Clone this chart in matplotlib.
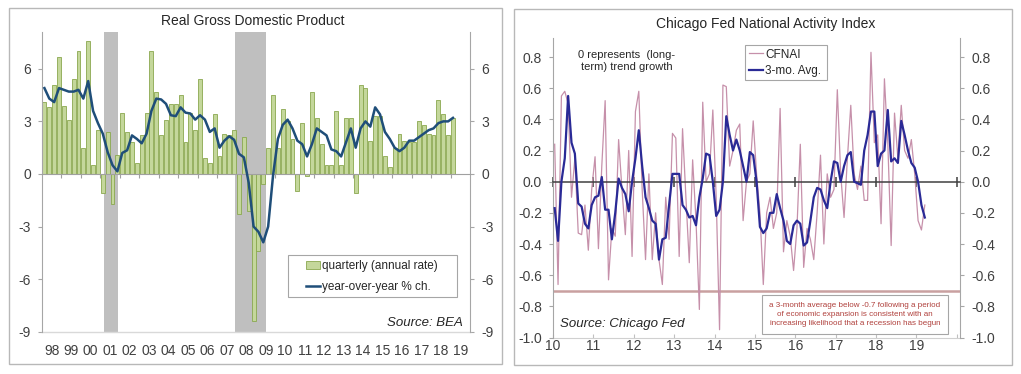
import numpy as np
import matplotlib
matplotlib.use("Agg")
import matplotlib.pyplot as plt
from matplotlib.patches import Rectangle, Patch
from matplotlib.lines import Line2D

plt.rcParams['font.family'] = ['Liberation Sans', 'DejaVu Sans']

# ---------------- data: Real GDP (quarterly, 1998Q1 - 2019Q1) ----------------
gdp_start_year = 1998
gdp_quarterly = [4.1, 3.8, 5.1, 6.7,
                 3.9, 3.1, 5.4, 7.0,
                 1.5, 7.6, 0.5, 2.5,
                 -1.1, 2.4, -1.7, 1.1,
                 3.5, 2.4, 1.8, 0.6,
                 2.2, 3.5, 7.0, 4.7,
                 2.2, 3.1, 4.0, 4.0,
                 4.5, 1.8, 3.5, 2.5,
                 5.4, 0.9, 0.6, 3.4,
                 1.0, 2.3, 2.2, 2.5,
                 -2.3, 2.1, -2.1, -8.4,
                 -4.4, -0.6, 1.5, 4.5,
                 1.5, 3.7, 3.0, 2.0,
                 -1.0, 2.9, -0.1, 4.7,
                 3.2, 1.7, 0.5, 0.5,
                 3.6, 0.5, 3.2, 3.2,
                 -1.1, 5.1, 4.9, 1.9,
                 3.3, 3.3, 1.0, 0.4,
                 1.5, 2.3, 1.9, 1.8,
                 1.8, 3.0, 2.8, 2.3,
                 2.2, 4.2, 3.4, 2.2,
                 3.2]
gdp_yoy = [4.9, 4.3, 4.1, 4.9,
           4.8, 4.7, 4.7, 4.8,
           4.3, 5.3, 3.6, 2.9,
           2.3, 1.25, 0.5, 0.15,
           1.2, 1.35, 2.2, 2.0,
           1.75, 2.3, 3.6, 4.3,
           4.25, 4.0, 3.35, 3.3,
           3.8, 3.5, 3.45, 3.1,
           3.35, 3.1, 2.4, 2.6,
           1.5, 1.9, 2.15, 1.95,
           1.15, 0.95, -0.5, -3.0,
           -3.3, -3.9, -3.0, -0.1,
           2.0, 2.8, 3.1, 2.6,
           1.9, 1.7, 1.0, 1.7,
           2.6, 2.4, 2.2, 1.4,
           1.3, 1.0, 1.8, 2.6,
           1.5, 2.6, 3.0, 2.7,
           3.8, 3.4, 2.4, 2.0,
           1.5, 1.3, 1.5, 1.9,
           1.9, 2.1, 2.3, 2.5,
           2.6, 2.9, 3.0, 3.0,
           3.2]
recession_start = [2001.17, 2007.92]
recession_end = [2001.92, 2009.5]
gdp_year_labels = ['98', '99', '00', '01', '02', '03', '04', '05', '06', '07', '08',
                   '09', '10', '11', '12', '13', '14', '15', '16', '17', '18', '19']
gdp_yticks = [-9, -6, -3, 0, 3, 6]

# ---------------- data: CFNAI (monthly, Jan 2010 - Mar 2019) ----------------
cfnai_start_year = 2010
cfnai = [0.24, -0.66, 0.55, 0.58, 0.50, -0.10, 0.15, -0.33, -0.34, -0.15,
         -0.44, -0.05, 0.16, -0.43, 0.10, 0.52, -0.63, -0.30, -0.35, 0.27,
         -0.05, -0.34, 0.20, -0.48, 0.45, 0.58, -0.05, -0.50, 0.05, -0.50,
         -0.20, -0.50, -0.66, -0.10, -0.37, 0.31, 0.28, -0.48, 0.34, -0.10,
         -0.52, 0.14, -0.25, -0.82, 0.51, 0.00, 0.05, 0.46, -0.10, -0.95,
         0.62, 0.61, 0.10, 0.20, 0.33, 0.37, -0.25, 0.00, 0.05, 0.39,
         0.05, -0.20, -0.66, -0.20, -0.10, -0.30, -0.20, 0.47, -0.45, -0.25,
         -0.35, -0.57, -0.30, 0.24, -0.55, -0.30, -0.37, -0.50, -0.20, 0.17,
         -0.40, 0.05, -0.10, -0.05, 0.59, 0.05, -0.23, 0.15, 0.49, 0.05,
         -0.05, 0.10, -0.12, -0.12, 0.83, 0.25, 0.30, -0.27, 0.66, 0.25,
         -0.41, 0.44, 0.15, 0.49, 0.20, 0.15, 0.27, 0.05, -0.25, -0.31,
         -0.15]
cfnai_3mo = [-0.17, -0.38, 0.00, 0.15, 0.55, 0.25, 0.18, -0.14, -0.16, -0.27,
             -0.30, -0.15, -0.10, -0.09, 0.03, -0.18, -0.18, -0.37, -0.20, 0.02,
             -0.04, -0.08, -0.19, 0.00, 0.15, 0.33, 0.10, -0.10, -0.17, -0.25,
             -0.27, -0.50, -0.37, -0.36, -0.15, 0.05, 0.05, 0.05, -0.15, -0.18,
             -0.23, -0.22, -0.28, -0.10, 0.02, 0.18, 0.17, 0.00, -0.22, -0.18,
             0.00, 0.42, 0.30, 0.20, 0.27, 0.20, 0.10, 0.00, 0.19, 0.17,
             0.00, -0.29, -0.33, -0.30, -0.20, -0.20, -0.08, -0.17, -0.25, -0.38,
             -0.40, -0.28, -0.25, -0.27, -0.41, -0.39, -0.25, -0.10, -0.04, -0.05,
             -0.12, -0.17, 0.00, 0.13, 0.12, 0.00, 0.10, 0.17, 0.19, 0.00,
             -0.01, -0.02, 0.20, 0.30, 0.45, 0.45, 0.10, 0.18, 0.20, 0.46,
             0.13, 0.15, 0.12, 0.39, 0.30, 0.20, 0.12, 0.09, 0.00, -0.15,
             -0.23]
recession_threshold = -0.7
cfnai_year_labels = ['10', '11', '12', '13', '14', '15', '16', '17', '18', '19']
cfnai_yticks = [-1.0, -0.8, -0.6, -0.4, -0.2, 0.0, 0.2, 0.4, 0.6, 0.8]

# ---------------- figure ----------------
W, H = 1021, 374
fig = plt.figure(figsize=(W / 100, H / 100), dpi=100)


def px_axes(x0, y0, x1, y1):
    return fig.add_axes([x0 / W, 1 - y1 / H, (x1 - x0) / W, (y1 - y0) / H])


def px_fig(x, y):
    return x / W, 1 - y / H


def rect_patch(x0, y0, x1, y1, ec, lw=1.0, fc='none', z=1):
    return Rectangle((x0 / W, 1 - y1 / H), (x1 - x0) / W, (y1 - y0) / H,
                     transform=fig.transFigure, facecolor=fc, edgecolor=ec,
                     linewidth=lw, zorder=z, clip_on=False)


# panel frames
fig.patches.append(rect_patch(9, 8, 502, 364, '#b8b8b8'))
fig.patches.append(rect_patch(514, 9, 1012, 365, '#b8b8b8'))

TICKC = '#404040'
SPINEC = '#a6a6a6'

# ================= Left panel: GDP =================
ax = px_axes(42, 32, 470, 331.7)
q_x = gdp_start_year + np.arange(len(gdp_quarterly)) / 4 + 0.125
ax.set_xlim(1998, 2020)
ax.set_ylim(-9, 8.1)

for s, e in zip(recession_start, recession_end):
    ax.axvspan(s, e, color='#bfbfbf', zorder=0, lw=0)

ax.bar(q_x, gdp_quarterly, width=0.2, color='#c4d79b', edgecolor='#8aa84f',
       linewidth=0.6, zorder=2, label='quarterly (annual rate)')
yx = gdp_start_year + np.arange(len(gdp_yoy)) / 4 + 0.125
ax.plot(yx, gdp_yoy, color='#1f4e79', lw=1.8, zorder=3, label='year-over-year % ch.')

ax.spines['top'].set_visible(False)
ax.spines['bottom'].set_position(('data', 0))
ax.spines['bottom'].set_color('#a0a0a0')
ax.spines['bottom'].set_zorder(2.5)
for sp in ['left', 'right']:
    ax.spines[sp].set_color(SPINEC)
ax.set_xticks(np.arange(1999, 2020))
ax.tick_params(axis='x', direction='out', length=3, color='#a0a0a0', labelbottom=False)
ax.set_yticks(gdp_yticks)
ax.set_yticklabels([str(v) for v in gdp_yticks])
ax.tick_params(axis='y', direction='out', length=3, color=SPINEC, labelsize=10,
               labelcolor=TICKC, right=True, labelright=True, pad=5)
ax.plot([0, 1], [0, 0], transform=ax.transAxes, color='#d9d9d9', lw=1, clip_on=False)

sec = ax.secondary_xaxis(0)
sec.spines['bottom'].set_visible(False)
sec.set_xticks([])
sec.set_xticks(np.arange(1998, 2020) + 0.5, gdp_year_labels, minor=True)
sec.tick_params(axis='x', which='minor', length=0, labelsize=10, labelcolor=TICKC, pad=9)

fig.text(*px_fig(253, 21), 'Real Gross Domestic Product', ha='center', va='center',
         fontsize=10, color='#262626')

ax.add_patch(rect_patch(288, 255, 457, 297, '#a6a6a6', lw=0.8, fc='white', z=4.5))
leg = ax.legend(handles=[Patch(facecolor='#c4d79b', edgecolor='#8aa84f', lw=0.6),
                         Line2D([], [], color='#1f4e79', lw=1.8)],
                labels=['quarterly (annual rate)', 'year-over-year % ch.'],
                loc='center left', bbox_to_anchor=px_fig(306, 276.5),
                bbox_transform=fig.transFigure, fontsize=8.5, frameon=False,
                handlelength=1.2, handleheight=0.7, handletextpad=0.15,
                labelspacing=0.78, borderpad=0, borderaxespad=0)
leg.set_zorder(5)
for t in leg.get_texts():
    t.set_color('#262626')

fig.text(*px_fig(463, 323), 'Source: BEA', ha='right', va='center', fontsize=9.5,
         style='italic', color='#262626')

# ================= Right panel: CFNAI =================
bx = px_axes(553, 38.3, 960, 337.5)
bx.set_xlim(2010, 2020.08)
bx.set_ylim(-1.0, 0.92)
m_x = cfnai_start_year + (np.arange(len(cfnai)) + 0.5) / 12
a_x = cfnai_start_year + (np.arange(len(cfnai_3mo)) + 0.5) / 12

bx.axhline(recession_threshold, color='#c9a0a0', lw=1.8, zorder=1)
bx.plot(m_x, cfnai, color='#c690aa', lw=0.9, zorder=2, label='CFNAI')
bx.plot(a_x, cfnai_3mo, color='#2a2a96', lw=1.6, zorder=3, label='3-mo. Avg.')

bx.spines['top'].set_visible(False)
bx.spines['bottom'].set_position(('data', 0))
bx.spines['bottom'].set_color('#404040')
bx.spines['bottom'].set_linewidth(1.1)
for sp in ['left', 'right']:
    bx.spines[sp].set_color(SPINEC)
bx.set_xticks(np.arange(2010, 2021))
bx.tick_params(axis='x', direction='inout', length=7, width=1.1, color='#404040',
               labelbottom=False)
bx.set_yticks(cfnai_yticks)
bx.set_yticklabels([f'{v:.1f}' for v in cfnai_yticks])
bx.tick_params(axis='y', direction='out', length=3, color=SPINEC, labelsize=10,
               labelcolor=TICKC, right=True, labelright=True, pad=5)

sec2 = bx.secondary_xaxis(0)
sec2.spines['bottom'].set_color('#d0d0d0')
sec2.set_xticks(np.arange(2010, 2021), cfnai_year_labels + [''])
sec2.tick_params(axis='x', direction='in', length=3, color='#c0c0c0', labelsize=10,
                 labelcolor=TICKC, pad=1)

fig.text(*px_fig(766, 24), 'Chicago Fed National Activity Index', ha='center',
         va='center', fontsize=10, color='#262626')

fig.text(*px_fig(627, 61), '0 represents  (long-\nterm) trend growth', ha='center',
         va='center', fontsize=8, color='#262626', linespacing=1.2)

bx.add_patch(rect_patch(745, 45, 827, 80, '#a6a6a6', lw=0.8, fc='white', z=4.5))
leg2 = bx.legend(loc='center left', bbox_to_anchor=px_fig(749, 63),
                 bbox_transform=fig.transFigure, fontsize=8.5, frameon=False,
                 handlelength=1.2, handletextpad=0.15, labelspacing=0.42,
                 borderpad=0, borderaxespad=0)
leg2.set_zorder(5)
for t in leg2.get_texts():
    t.set_color('#262626')

fig.text(*px_fig(560, 324), 'Source: Chicago Fed', ha='left', va='center',
         fontsize=9.5, style='italic', color='#262626')

fig.patches.append(rect_patch(762, 295, 948, 334, '#a6a6a6', lw=0.8, fc='white', z=3))
fig.text(*px_fig(855, 314.5),
         'a 3-month average below -0.7 following a period\n'
         'of economic expansion is consistent with an\n'
         'increasing likelihood that a recession has begun',
         ha='center', va='center', fontsize=5.8, color='#b0403c', linespacing=1.4,
         zorder=4)

fig.savefig('out.png', dpi=100)
